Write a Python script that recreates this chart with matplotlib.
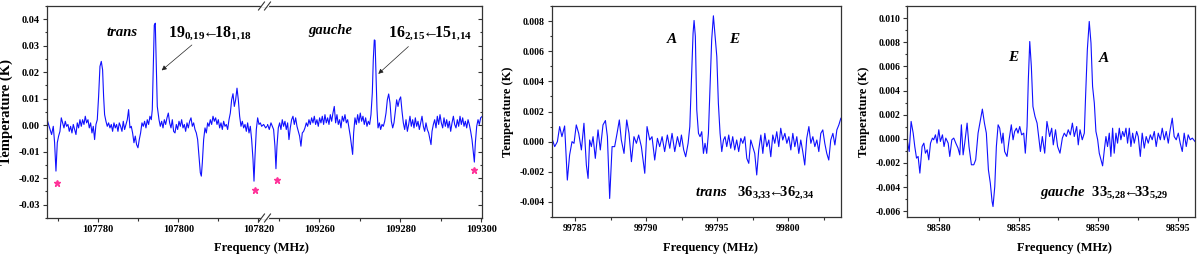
import numpy as np
import matplotlib
matplotlib.use("Agg")
import matplotlib.pyplot as plt
from matplotlib.ticker import MultipleLocator, FormatStrFormatter
from matplotlib.lines import Line2D

plt.rcParams['font.family'] = ['Liberation Serif', 'DejaVu Serif']
plt.rcParams['font.weight'] = 'bold'
plt.rcParams['axes.unicode_minus'] = False
plt.rcParams['mathtext.fontset'] = 'custom'
plt.rcParams['mathtext.rm'] = 'Liberation Serif:bold'
plt.rcParams['mathtext.bf'] = 'Liberation Serif:bold'
plt.rcParams['mathtext.it'] = 'Liberation Serif:italic:bold'

# ---------------- Left panel, segment 1 (107767-107822 MHz) ----------------
freq_seg1 = [
    107767.33, 107767.83, 107768.33, 107768.75, 107769.08, 107769.42, 107769.75, 107770.08, 107770.42, 107770.75,
    107771.08, 107771.42, 107771.75, 107772.08, 107772.42, 107772.75, 107773.08, 107773.42, 107773.75, 107774.08,
    107774.42, 107774.75, 107775.08, 107775.42, 107775.75, 107776.08, 107776.42, 107776.75, 107777.08, 107777.42,
    107777.75, 107778.08, 107778.42, 107778.75, 107779.08, 107779.42, 107779.75, 107780.08, 107780.42, 107780.75,
    107781.08, 107781.33, 107781.58, 107781.92, 107782.25, 107782.58, 107782.92, 107783.25, 107783.58, 107783.92,
    107784.25, 107784.58, 107784.92, 107785.25, 107785.58, 107785.92, 107786.25, 107786.58, 107786.92, 107787.25,
    107787.58, 107787.92, 107788.25, 107788.58, 107788.92, 107789.25, 107789.58, 107789.92, 107790.25, 107790.58,
    107790.92, 107791.25, 107791.58, 107791.92, 107792.25, 107792.58, 107792.92, 107793.25, 107793.50, 107793.75,
    107794.00, 107794.25, 107794.50, 107794.75, 107795.00, 107795.18, 107795.51, 107795.84, 107796.18, 107796.51,
    107796.84, 107797.18, 107797.51, 107797.84, 107798.18, 107798.51, 107798.84, 107799.18, 107799.51, 107799.84,
    107800.18, 107800.51, 107800.84, 107801.18, 107801.51, 107801.84, 107802.18, 107802.51, 107802.84, 107803.18,
    107803.51, 107803.84, 107804.18, 107804.51, 107804.84, 107805.18, 107805.51, 107805.76, 107806.01, 107806.34,
    107806.68, 107807.01, 107807.34, 107807.68, 107808.01, 107808.34, 107808.68, 107809.01, 107809.34, 107809.68,
    107810.01, 107810.34, 107810.68, 107811.01, 107811.34, 107811.68, 107812.01, 107812.34, 107812.68, 107813.01,
    107813.34, 107813.68, 107814.01, 107814.34, 107814.68, 107815.01, 107815.34, 107815.68, 107816.01, 107816.34,
    107816.68, 107817.01, 107817.34, 107817.68, 107818.01, 107818.34, 107818.68, 107818.93, 107819.18, 107819.51,
    107819.84, 107820.18, 107820.51, 107820.84, 107821.34, 107821.84, 107822.18,
]
temp_seg1 = [
    0.0015, -0.0010, -0.0035, -0.0004, -0.0066, -0.0173, -0.0066, -0.0041, -0.0023, 0.0028,
    0.0009, -0.0010, 0.0015, -0.0004, 0.0003, -0.0023, -0.0004, -0.0029, 0.0003, -0.0016,
    -0.0035, 0.0009, -0.0010, 0.0021, -0.0004, 0.0021, 0.0003, 0.0034, 0.0009, 0.0021,
    -0.0010, 0.0009, -0.0029, -0.0004, -0.0054, 0.0003, 0.0021, 0.0109, 0.0222, 0.0241,
    0.0209, 0.0109, 0.0040, 0.0015, -0.0004, 0.0009, -0.0010, 0.0003, -0.0023, 0.0009,
    -0.0010, 0.0003, -0.0023, 0.0009, -0.0004, -0.0023, 0.0015, -0.0016, 0.0003, 0.0021,
    0.0059, -0.0010, -0.0004, -0.0029, -0.0066, -0.0041, -0.0073, -0.0085, -0.0054, -0.0029,
    0.0009, -0.0004, 0.0015, -0.0010, 0.0021, 0.0003, 0.0034, 0.0021, 0.0059, 0.0222,
    0.0378, 0.0385, 0.0222, 0.0071, 0.0040, 0.0021, -0.0004, 0.0015, -0.0010, 0.0021,
    0.0003, 0.0028, 0.0046, 0.0009, -0.0010, 0.0021, -0.0023, -0.0029, 0.0003, -0.0016,
    0.0015, -0.0004, 0.0021, -0.0010, 0.0003, -0.0023, 0.0009, -0.0010, 0.0015, 0.0028,
    -0.0004, 0.0009, -0.0016, -0.0029, -0.0054, -0.0117, -0.0179, -0.0192, -0.0142, -0.0054,
    -0.0010, -0.0029, 0.0009, -0.0004, 0.0021, 0.0003, 0.0034, 0.0015, 0.0028, 0.0003,
    0.0021, -0.0010, 0.0009, -0.0016, 0.0015, -0.0004, 0.0003, -0.0016, 0.0021, 0.0046,
    0.0096, 0.0119, 0.0071, 0.0096, 0.0140, 0.0096, 0.0034, -0.0004, 0.0015, -0.0010,
    0.0003, -0.0023, 0.0009, -0.0029, -0.0004, -0.0054, -0.0129, -0.0211, -0.0117, -0.0016,
    0.0028, 0.0003, 0.0009, -0.0004, 0.0003, -0.0010, -0.0004,
]

# ---------------- Left panel, segment 2 (109247-109300 MHz) ----------------
freq_seg2 = [
    109246.83, 109247.24, 109247.65, 109248.07, 109248.40, 109248.72, 109249.05, 109249.30, 109249.55, 109249.88,
    109250.21, 109250.53, 109250.86, 109251.19, 109251.52, 109251.85, 109252.18, 109252.51, 109252.84, 109253.17,
    109253.50, 109253.83, 109254.16, 109254.49, 109254.81, 109255.14, 109255.47, 109255.80, 109256.13, 109256.46,
    109256.79, 109257.12, 109257.45, 109257.78, 109258.11, 109258.44, 109258.77, 109259.09, 109259.42, 109259.75,
    109260.08, 109260.41, 109260.74, 109261.07, 109261.40, 109261.73, 109262.06, 109262.39, 109262.72, 109263.05,
    109263.37, 109263.70, 109264.03, 109264.36, 109264.69, 109265.02, 109265.35, 109265.68, 109266.01, 109266.34,
    109266.67, 109267.00, 109267.33, 109267.65, 109267.98, 109268.23, 109268.48, 109268.81, 109269.14, 109269.47,
    109269.79, 109270.12, 109270.45, 109270.78, 109271.11, 109271.44, 109271.77, 109272.10, 109272.43, 109272.76,
    109273.09, 109273.33, 109273.58, 109273.76, 109274.01, 109274.25, 109274.50, 109274.83, 109275.15, 109275.48,
    109275.81, 109276.14, 109276.47, 109276.80, 109277.13, 109277.46, 109277.79, 109278.12, 109278.44, 109278.77,
    109279.10, 109279.43, 109279.76, 109280.09, 109280.42, 109280.75, 109281.08, 109281.41, 109281.74, 109282.07,
    109282.39, 109282.72, 109283.05, 109283.38, 109283.71, 109284.04, 109284.37, 109284.70, 109285.03, 109285.36,
    109285.69, 109286.01, 109286.34, 109286.67, 109287.00, 109287.33, 109287.58, 109287.83, 109288.16, 109288.49,
    109288.81, 109289.14, 109289.47, 109289.80, 109290.13, 109290.46, 109290.79, 109291.12, 109291.45, 109291.78,
    109292.11, 109292.44, 109292.77, 109293.10, 109293.42, 109293.75, 109294.08, 109294.41, 109294.74, 109295.07,
    109295.40, 109295.73, 109296.06, 109296.39, 109296.72, 109297.04, 109297.37, 109297.70, 109298.03, 109298.28,
    109298.53, 109298.86, 109299.19, 109299.51, 109299.84, 109300.25,
]
temp_seg2 = [
    -0.0010, 0.0003, -0.0016, 0.0009, -0.0004, -0.0016, -0.0079, -0.0164, -0.0079, -0.0010,
    0.0009, -0.0016, 0.0021, -0.0004, 0.0015, -0.0016, 0.0009, -0.0054, -0.0010, 0.0021,
    0.0034, 0.0003, 0.0028, -0.0004, -0.0023, -0.0041, -0.0079, -0.0029, -0.0023, -0.0010,
    0.0009, -0.0004, 0.0021, 0.0003, 0.0028, 0.0009, 0.0034, 0.0003, 0.0021, -0.0004,
    0.0028, 0.0009, 0.0034, 0.0003, 0.0040, 0.0009, 0.0028, 0.0003, 0.0040, 0.0015,
    0.0046, 0.0071, 0.0009, 0.0040, 0.0003, 0.0021, -0.0010, 0.0034, 0.0015, 0.0040,
    0.0009, 0.0021, -0.0010, -0.0041, -0.0079, -0.0110, -0.0029, 0.0028, 0.0003, 0.0040,
    0.0009, 0.0046, 0.0015, 0.0034, 0.0003, 0.0028, -0.0004, 0.0015, 0.0003, 0.0040,
    0.0122, 0.0247, 0.0322, 0.0320, 0.0184, 0.0059, -0.0010, 0.0009, -0.0016, 0.0003,
    -0.0004, 0.0015, 0.0046, 0.0096, 0.0118, 0.0084, 0.0015, -0.0010, 0.0009, 0.0053,
    0.0096, 0.0071, 0.0096, 0.0107, 0.0053, 0.0009, -0.0016, 0.0021, -0.0023, 0.0003,
    0.0034, -0.0004, 0.0021, -0.0010, 0.0028, -0.0004, 0.0015, -0.0016, 0.0009, 0.0034,
    -0.0004, -0.0023, 0.0009, -0.0016, -0.0029, -0.0054, -0.0073, -0.0023, 0.0003, 0.0021,
    -0.0010, 0.0034, 0.0003, 0.0040, 0.0009, -0.0010, 0.0028, -0.0004, 0.0021, -0.0010,
    0.0015, -0.0023, 0.0009, 0.0034, 0.0003, -0.0010, 0.0021, -0.0004, 0.0034, 0.0003,
    0.0028, -0.0004, 0.0015, -0.0010, 0.0021, 0.0003, -0.0023, -0.0054, -0.0104, -0.0139,
    -0.0066, -0.0004, 0.0021, 0.0003, 0.0028, 0.0034,
]

# stars (unidentified features) in left panel
star_freq_seg1 = [107769.6, 107819.2]
star_temp_seg1 = [-0.0217, -0.0245]
star_freq_seg2 = [109249.6, 109298.3]
star_temp_seg2 = [-0.0205, -0.0170]

# ---------------- Middle panel (trans 36_3,33 - 36_2,34) ----------------
freq_mid = [
    99783.38, 99783.57, 99783.76, 99783.92, 99784.08, 99784.27, 99784.46, 99784.62, 99784.79, 99784.93,
    99785.09, 99785.26, 99785.45, 99785.63, 99785.80, 99785.92, 99786.03, 99786.15, 99786.27, 99786.43,
    99786.62, 99786.78, 99786.97, 99787.14, 99787.28, 99787.44, 99787.61, 99787.79, 99787.96, 99788.12,
    99788.26, 99788.45, 99788.64, 99788.80, 99788.97, 99789.15, 99789.32, 99789.48, 99789.67, 99789.91,
    99790.07, 99790.26, 99790.42, 99790.61, 99790.80, 99790.96, 99791.13, 99791.31, 99791.50, 99791.67,
    99791.83, 99792.02, 99792.21, 99792.37, 99792.49, 99792.65, 99792.79, 99792.96, 99793.08, 99793.19,
    99793.31, 99793.38, 99793.47, 99793.51, 99793.57, 99793.69, 99793.80, 99793.92, 99794.04, 99794.15,
    99794.27, 99794.39, 99794.51, 99794.62, 99794.74, 99794.86, 99794.98, 99795.09, 99795.21, 99795.33,
    99795.45, 99795.56, 99795.68, 99795.82, 99795.96, 99796.10, 99796.24, 99796.38, 99796.52, 99796.67,
    99796.81, 99796.95, 99797.09, 99797.23, 99797.37, 99797.51, 99797.65, 99797.79, 99797.93, 99798.08,
    99798.22, 99798.36, 99798.50, 99798.64, 99798.78, 99798.92, 99799.06, 99799.20, 99799.34, 99799.48,
    99799.62, 99799.77, 99799.91, 99800.05, 99800.19, 99800.33, 99800.47, 99800.61, 99800.75, 99800.89,
    99801.03, 99801.17, 99801.31, 99801.46, 99801.60, 99801.74, 99801.88, 99802.02, 99802.16, 99802.30,
    99802.44, 99802.58, 99802.72, 99802.86, 99803.00, 99803.15, 99803.29, 99803.43, 99803.57, 99803.71,
]
temp_mid = [
    0.00022, -0.00033, 0.00000, 0.00100, 0.00033, 0.00104, -0.00255, -0.00089, 0.00000, -0.00011,
    0.00111, 0.00055, -0.00055, 0.00122, -0.00155, -0.00244, 0.00011, -0.00033, 0.00033, -0.00111,
    0.00078, -0.00055, 0.00111, 0.00140, 0.00033, -0.00377, -0.00033, -0.00033, 0.00055, 0.00144,
    0.00011, -0.00078, 0.00144, 0.00055, -0.00133, 0.00033, -0.00011, 0.00044, -0.00033, -0.00210,
    0.00100, 0.00011, 0.00033, -0.00122, 0.00022, -0.00033, 0.00033, -0.00066, 0.00044, -0.00044,
    0.00055, -0.00066, 0.00033, -0.00033, 0.00044, -0.00055, -0.00100, -0.00011, 0.00100, 0.00388,
    0.00720, 0.00804, 0.00698, 0.00498, 0.00210, 0.00055, 0.00033, 0.00066, -0.00078, -0.00011,
    -0.00078, 0.00055, 0.00388, 0.00676, 0.00835, 0.00698, 0.00565, 0.00255, 0.00055, -0.00066,
    0.00011, 0.00033, -0.00033, 0.00044, -0.00044, 0.00033, -0.00055, 0.00011, -0.00066, 0.00022,
    -0.00011, 0.00033, -0.00111, -0.00144, 0.00011, -0.00033, -0.00078, -0.00221, -0.00055, 0.00044,
    -0.00078, 0.00055, -0.00033, 0.00011, -0.00100, 0.00044, -0.00011, 0.00066, -0.00033, 0.00089,
    0.00011, 0.00055, -0.00011, 0.00033, -0.00055, 0.00055, -0.00033, 0.00033, -0.00078, 0.00011,
    -0.00066, -0.00155, 0.00022, 0.00100, -0.00011, 0.00033, -0.00033, 0.00011, -0.00066, 0.00055,
    0.00078, -0.00011, -0.00078, -0.00122, 0.00011, 0.00055, -0.00022, 0.00078, 0.00111, 0.00155,
]

# ---------------- Right panel (gauche 33_5,28 - 33_5,29) ----------------
freq_right = [
    98577.99, 98578.12, 98578.24, 98578.37, 98578.47, 98578.58, 98578.68, 98578.79, 98578.93, 98579.04,
    98579.14, 98579.25, 98579.35, 98579.46, 98579.58, 98579.66, 98579.77, 98579.87, 98579.98, 98580.08,
    98580.21, 98580.31, 98580.42, 98580.57, 98580.67, 98580.80, 98580.92, 98581.05, 98581.19, 98581.30,
    98581.40, 98581.51, 98581.61, 98581.76, 98581.88, 98582.03, 98582.18, 98582.30, 98582.45, 98582.60,
    98582.72, 98582.85, 98582.97, 98583.10, 98583.22, 98583.33, 98583.39, 98583.50, 98583.60, 98583.71,
    98583.81, 98583.94, 98584.02, 98584.12, 98584.27, 98584.40, 98584.54, 98584.65, 98584.75, 98584.86,
    98584.96, 98585.07, 98585.19, 98585.32, 98585.42, 98585.53, 98585.61, 98585.70, 98585.80, 98585.90,
    98586.03, 98586.16, 98586.26, 98586.37, 98586.49, 98586.64, 98586.78, 98586.95, 98587.08, 98587.18,
    98587.32, 98587.45, 98587.60, 98587.75, 98587.87, 98588.00, 98588.12, 98588.25, 98588.38, 98588.50,
    98588.65, 98588.75, 98588.86, 98589.00, 98589.13, 98589.21, 98589.32, 98589.44, 98589.55, 98589.65,
    98589.76, 98589.86, 98589.97, 98590.07, 98590.18, 98590.28, 98590.39, 98590.49, 98590.59, 98590.70,
    98590.80, 98590.91, 98591.01, 98591.12, 98591.22, 98591.33, 98591.43, 98591.54, 98591.64, 98591.75,
    98591.85, 98591.96, 98592.06, 98592.17, 98592.27, 98592.42, 98592.52, 98592.65, 98592.77, 98592.90,
    98593.02, 98593.15, 98593.28, 98593.40, 98593.53, 98593.65, 98593.78, 98593.91, 98594.03, 98594.16,
    98594.28, 98594.41, 98594.53, 98594.66, 98594.78, 98594.91, 98595.04, 98595.16, 98595.29, 98595.41,
    98595.54, 98595.66, 98595.79, 98595.92, 98596.09,
]
temp_right = [
    -0.00008, -0.00105, 0.00144, 0.00047, -0.00064, -0.00160, -0.00146, -0.00284, -0.00064, -0.00036,
    -0.00119, -0.00091, -0.00174, -0.00036, 0.00006, -0.00008, 0.00033, -0.00036, 0.00075, -0.00022,
    0.00033, -0.00064, 0.00006, -0.00036, -0.00146, -0.00008, 0.00006, -0.00036, -0.00077, -0.00133,
    0.00116, -0.00133, -0.00036, 0.00130, -0.00064, -0.00215, -0.00215, -0.00174, 0.00047, 0.00157,
    0.00246, 0.00130, 0.00047, -0.00257, -0.00367, -0.00519, -0.00561, -0.00395, -0.00064, 0.00116,
    0.00088, -0.00036, 0.00047, -0.00105, -0.00146, -0.00008, 0.00116, -0.00008, 0.00061, 0.00088,
    0.00047, 0.00102, 0.00033, 0.00047, -0.00119, 0.00102, 0.00489, 0.00806, 0.00599, 0.00268,
    0.00185, 0.00130, 0.00019, -0.00105, 0.00019, -0.00119, 0.00144, 0.00019, 0.00088, -0.00050,
    0.00075, -0.00064, -0.00119, 0.00006, 0.00047, 0.00019, 0.00075, 0.00033, 0.00130, 0.00019,
    0.00102, -0.00050, 0.00075, -0.00008, 0.00047, 0.00351, 0.00737, 0.00972, 0.00793, 0.00434,
    0.00295, 0.00061, -0.00008, -0.00119, -0.00174, -0.00224, -0.00091, 0.00019, -0.00064, 0.00047,
    -0.00146, 0.00088, -0.00119, 0.00047, -0.00036, 0.00088, -0.00008, 0.00061, 0.00019, 0.00088,
    -0.00036, 0.00088, -0.00064, 0.00047, -0.00036, 0.00061, 0.00019, -0.00146, 0.00047, -0.00077,
    0.00019, -0.00036, 0.00033, -0.00008, 0.00061, -0.00064, 0.00047, -0.00008, 0.00088, -0.00008,
    0.00061, -0.00036, 0.00075, 0.00171, 0.00019, -0.00008, 0.00047, -0.00036, -0.00105, 0.00047,
    -0.00064, 0.00033, -0.00008, 0.00006, -0.00022,
]

for a, b in [(freq_seg1, temp_seg1), (freq_seg2, temp_seg2), (freq_mid, temp_mid), (freq_right, temp_right)]:
    assert len(a) == len(b), (len(a), len(b))

# ---------------- Figure ----------------
W, H = 1200, 259
fig = plt.figure(figsize=(W / 100, H / 100), dpi=100)
LINE = '#1010ff'
STAR = '#ff3399'
TICKFS = 7
LABFS = 9


def px(x0, y0, x1, y1):
    return [x0 / W, 1 - y1 / H, (x1 - x0) / W, (y1 - y0) / H]


ax1 = fig.add_axes(px(47, 6, 267, 218))
ax2 = fig.add_axes(px(267, 6, 482, 218), sharey=ax1)
ax3 = fig.add_axes(px(551.7, 6, 840.7, 217))
ax4 = fig.add_axes(px(907.3, 6, 1195, 217.3))

for ax in (ax1, ax2, ax3, ax4):
    for s in ax.spines.values():
        s.set_linewidth(0.9)
        s.set_color('#333333')
    ax.tick_params(which='both', direction='out', labelsize=TICKFS, width=0.8,
                   top=False, right=False, pad=2, color='#333333')
    ax.tick_params(which='major', length=3)
    ax.tick_params(which='minor', length=1.8)
for ax in (ax1, ax2):
    ax.tick_params(labelsize=7.5)

# left panel
ax1.plot(freq_seg1, temp_seg1, color=LINE, lw=0.8)
ax2.plot(freq_seg2, temp_seg2, color=LINE, lw=0.8)
ax1.plot(star_freq_seg1, star_temp_seg1, ls='none', marker='*', color=STAR, ms=4.8)
ax2.plot(star_freq_seg2, star_temp_seg2, ls='none', marker='*', color=STAR, ms=4.8)

ax1.set_xlim(107767.18, 107822.18)
ax2.set_xlim(109247.09, 109300.17)
ax1.set_ylim(-0.035, 0.045)
ax1.spines['right'].set_visible(False)
ax2.spines['left'].set_visible(False)
ax2.tick_params(which='both', left=False, labelleft=False, right=True, direction='out')
ax2.tick_params(axis='y', which='both', direction='in')
for ax in (ax1, ax2):
    ax.xaxis.set_major_locator(MultipleLocator(20))
    ax.xaxis.set_minor_locator(MultipleLocator(10))
    ax.xaxis.set_major_formatter(FormatStrFormatter('%d'))
ax1.yaxis.set_major_locator(MultipleLocator(0.01))
ax1.yaxis.set_minor_locator(MultipleLocator(0.005))
ax1.yaxis.set_major_formatter(FormatStrFormatter('%.2f'))
ax1.set_ylabel('Temperature (K)', fontsize=10.5, fontweight='bold')
ax1.yaxis.set_label_coords(-0.156, 0.5)

# break marks
for yy in (6, 218):
    fig.add_artist(Line2D([262 / W, 268 / W], [1 - yy / H, 1 - yy / H], color='white', lw=1.6,
                          transform=fig.transFigure))
    for xc in (261.5, 267.5):
        fig.add_artist(Line2D([(xc - 3) / W, (xc + 3) / W], [1 - (yy + 4) / H, 1 - (yy - 4) / H],
                              color='#333333', lw=0.8, transform=fig.transFigure))

ax1.text(107785.85, 0.0351, 'trans', fontsize=10.5, fontweight='bold', fontstyle='italic',
         ha='center', va='center')
ax1.text(107797.4, 0.0337, r'$19_{0{,}19}\!\!\leftarrow\!\!\!18_{1{,}18}$', fontsize=11.5,
         ha='left', va='baseline')
ax1.annotate('', xy=(107795.85, 0.0207), xytext=(107803.4, 0.0303),
             arrowprops=dict(arrowstyle='-|>', color='#222222', lw=0.5, mutation_scale=7,
                             shrinkA=0, shrinkB=0))
ax2.text(109262.6, 0.0357, 'gauche', fontsize=10.5, fontweight='bold', fontstyle='italic',
         ha='center', va='center')
ax2.text(109277.0, 0.0337, r'$16_{2{,}15}\!\!\leftarrow\!\!\!15_{1{,}14}$', fontsize=11.5,
         ha='left', va='baseline')
ax2.annotate('', xy=(109274.57, 0.0194), xytext=(109282.0, 0.0297),
             arrowprops=dict(arrowstyle='-|>', color='#222222', lw=0.5, mutation_scale=7,
                             shrinkA=0, shrinkB=0))
fig.text(261.3 / W, 1 - 248.5 / H, 'Frequency (MHz)', fontsize=LABFS, fontweight='bold',
         ha='center', va='center')

# middle panel
ax3.plot(freq_mid, temp_mid, color=LINE, lw=0.8)
ax3.set_xlim(99783.36, 99803.7)
ax3.set_ylim(-0.005, 0.009)
ax3.xaxis.set_major_locator(MultipleLocator(5))
ax3.xaxis.set_minor_locator(MultipleLocator(2.5))
ax3.xaxis.set_major_formatter(FormatStrFormatter('%d'))
ax3.yaxis.set_major_locator(MultipleLocator(0.002))
ax3.yaxis.set_minor_locator(MultipleLocator(0.001))
ax3.yaxis.set_major_formatter(FormatStrFormatter('%.3f'))
ax3.set_ylabel('Temperature (K)', fontsize=LABFS, fontweight='bold')
ax3.yaxis.set_label_coords(-0.132, 0.5)
ax3.text(99791.81, 0.0068, 'A', fontsize=11, fontweight='bold', fontstyle='italic',
         ha='center', va='center')
ax3.text(99796.2, 0.0068, 'E', fontsize=11, fontweight='bold', fontstyle='italic',
         ha='center', va='center')
ax3.text(99793.45, -0.0034, r'$\mathit{trans}\ \ \ 36_{3{,}33}\!\!\leftarrow\!\!\!36_{2{,}34}$',
         fontsize=10.5, ha='left', va='center')
fig.text(710 / W, 1 - 248.5 / H, 'Frequency (MHz)', fontsize=LABFS, fontweight='bold',
         ha='center', va='center')

# right panel
ax4.plot(freq_right, temp_right, color=LINE, lw=0.8)
ax4.set_xlim(98578.0, 98596.09)
ax4.set_ylim(-0.0065, 0.011)
ax4.xaxis.set_major_locator(MultipleLocator(5))
ax4.xaxis.set_minor_locator(MultipleLocator(2.5))
ax4.xaxis.set_major_formatter(FormatStrFormatter('%d'))
ax4.yaxis.set_major_locator(MultipleLocator(0.002))
ax4.yaxis.set_minor_locator(MultipleLocator(0.001))
ax4.yaxis.set_major_formatter(FormatStrFormatter('%.3f'))
ax4.set_ylabel('Temperature (K)', fontsize=LABFS, fontweight='bold')
ax4.yaxis.set_label_coords(-0.130, 0.5)
ax4.text(98584.67, 0.00677, 'E', fontsize=11, fontweight='bold', fontstyle='italic',
         ha='center', va='center')
ax4.text(98590.38, 0.00668, 'A', fontsize=11, fontweight='bold', fontstyle='italic',
         ha='center', va='center')
ax4.text(98586.34, -0.00445, r'$\mathit{gauche}\ \ 33_{5{,}28}\!\!\leftarrow\!\!\!33_{5{,}29}$',
         fontsize=10.5, ha='left', va='center')
fig.text(1064.5 / W, 1 - 248.5 / H, 'Frequency (MHz)', fontsize=LABFS, fontweight='bold',
         ha='center', va='center')

for ax in (ax1, ax2, ax3, ax4):
    for lab in ax.get_xticklabels() + ax.get_yticklabels():
        lab.set_fontweight('bold')

fig.savefig('out.png', dpi=100)
